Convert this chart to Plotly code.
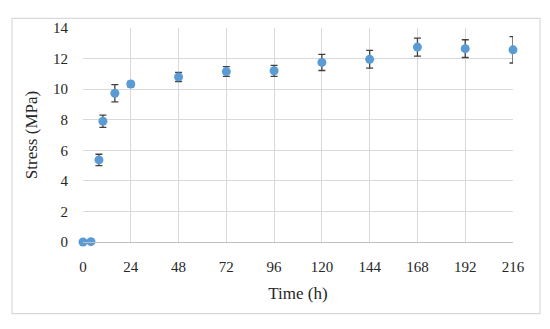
import plotly.graph_objects as go

time_h = [0, 4, 8, 10, 16, 24, 48, 72, 96, 120, 144, 168, 192, 216]
stress = [0.0, 0.02, 5.37, 7.9, 9.73, 10.33, 10.8, 11.15, 11.2, 11.75, 11.95, 12.75, 12.65, 12.57]
stress_err = [0.0, 0.0, 0.37, 0.4, 0.56, 0.18, 0.3, 0.32, 0.36, 0.53, 0.58, 0.59, 0.58, 0.86]
x_ticks = [0, 24, 48, 72, 96, 120, 144, 168, 192, 216]
y_ticks = [0, 2, 4, 6, 8, 10, 12, 14]

font_family = "Liberation Serif, Times New Roman, serif"

fig = go.Figure()
fig.add_trace(go.Scatter(
    x=time_h, y=stress, mode="markers",
    marker=dict(color="#5B9BD5", size=9),
    error_y=dict(type="data", array=stress_err, visible=True,
                 color="#404040", thickness=1.3, width=3.5),
    cliponaxis=False, showlegend=False,
))

# page has an 8px body margin; compensate so plot lands where reference has it
OFF = 8
W, H = 550, 329
l, r, t, b = 83 - OFF, 37 + OFF, 21 - OFF, 87 + OFF
pw, ph = W - l - r, H - t - b

def px_x(px):
    return (px - OFF - l) / pw

def px_y(py):
    return (H - b - (py - OFF)) / ph

fig.add_shape(type="rect", xref="paper", yref="paper",
              x0=px_x(12), x1=px_x(540), y0=px_y(316), y1=px_y(11),
              line=dict(color="#d9d9d9", width=1.2), layer="below")

fig.update_layout(
    width=W, height=H,
    margin=dict(l=l, r=r, t=t, b=b),
    paper_bgcolor="white", plot_bgcolor="white",
    font=dict(family=font_family, size=14, color="#262626"),
    xaxis=dict(range=[0, 216], tickvals=x_ticks, showgrid=True, gridcolor="#d9d9d9",
               gridwidth=1, zeroline=False, showline=True, linecolor="#bfbfbf",
               ticks="", ticklabelstandoff=11, tickfont=dict(size=15),
               title=dict(text="Time (h)", standoff=13)),
    yaxis=dict(range=[0, 14], tickvals=y_ticks, showgrid=True, gridcolor="#d9d9d9",
               gridwidth=1, zeroline=False, showline=False,
               ticks="", ticklabelstandoff=14, tickfont=dict(size=15),
               title=dict(text="Stress (MPa)", standoff=11)),
)

fig.write_html("out.html")
